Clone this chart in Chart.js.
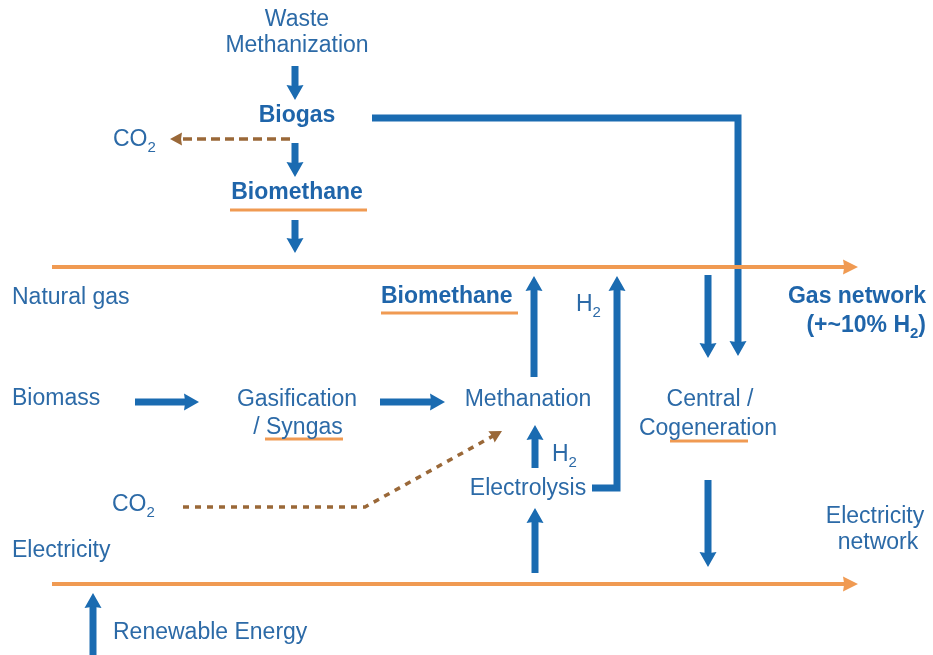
<!DOCTYPE html>
<html>
<head>
<meta charset="utf-8">
<script src="https://cdn.jsdelivr.net/npm/chart.js@4"></script>
<style>
  html, body { margin: 0; padding: 0; background: #ffffff; }
  #flujo { display: block; }
</style>
</head>
<body>
<canvas id="flujo" width="933" height="655"></canvas>
<script>
// --- datos del diagrama (coordenadas en unidades de los ejes 0..933 / 0..655) ---
const labelTexts = [
  'Waste', 'Methanization', 'Biogas', 'CO_2', 'Biomethane',
  'Natural gas', 'Biomethane', 'H_2', 'Gas network', '(+~10% H_2)',
  'Biomass', 'Gasification', '/ Syngas', 'Methanation', 'Central /', 'Cogeneration',
  'H_2', 'Electrolysis', 'CO_2', 'Electricity', 'network', 'Electricity', 'Renewable Energy'
];
const labelX = [297, 297, 297, 113, 297, 12, 381, 576, 926, 926, 12, 297, 298, 528, 710, 708, 552, 528, 112, 875, 878, 12, 113];
const labelY = [20, 46, 116, 140, 193, 298, 297, 305, 297, 326, 399, 400, 428, 400, 400, 429, 455, 489, 505, 517, 543, 551, 633];
const labelAlign = ['center', 'center', 'center', 'left', 'center', 'left', 'left', 'left', 'right', 'right',
  'left', 'center', 'center', 'center', 'center', 'center', 'left', 'center', 'left', 'center', 'center', 'left', 'left'];
const labelBold = [false, false, true, false, true, false, true, false, true, true,
  false, false, false, false, false, false, false, false, false, false, false, false, false];

// flujos azules (el ultimo punto es la punta de la flecha)
const blueFlows = [
  [[295, 66], [295, 100]],
  [[295, 143], [295, 177]],
  [[295, 220], [295, 253]],
  [[372, 118], [738, 118], [738, 356]],
  [[708, 275], [708, 358]],
  [[534, 377], [534, 276]],
  [[592, 488], [617, 488], [617, 276]],
  [[135, 402], [199, 402]],
  [[380, 402], [445, 402]],
  [[535, 468], [535, 425]],
  [[535, 573], [535, 508]],
  [[708, 480], [708, 567]],
  [[93, 655], [93, 593]]
];
// redes de gas y electricidad
const networkLines = [
  [[52, 267], [858, 267]],
  [[52, 584], [858, 584]]
];
// flujos de CO2
const co2Flows = [
  [[290, 139], [170, 139]],
  [[183, 507], [365, 507], [502, 431]]
];
// subrayados naranjas
const underlines = [
  [[230, 210], [367, 210]],
  [[381, 313], [518, 313]],
  [[265, 439], [343, 439]],
  [[670, 441], [748, 441]]
];

(function() {
  const canvas = document.getElementById('flujo');
  const ctx = canvas.getContext('2d');

  const AZUL = '#1a6bb1';
  const NARANJA = '#f09a52';
  const MARRON = '#9a6838';
  const TEXTO = '#2c6aa7';
  const TEXTO_BOLD = '#1f65aa';
  const FUENTE = '"Liberation Sans", Arial, sans-serif';

  // acorta el trazo para que la punta la dibuje el plugin
  function armarFlecha(path, color, width, head, headW, dash) {
    const n = path.length;
    const tip = path[n - 1];
    const prev = path[n - 2];
    const dx = tip[0] - prev[0], dy = tip[1] - prev[1];
    const len = Math.hypot(dx, dy);
    const back = head * 0.7;
    const pts = path.map(p => ({ x: p[0], y: p[1] }));
    pts[n - 1] = { x: tip[0] - dx / len * back, y: tip[1] - dy / len * back };
    return {
      data: pts,
      showLine: true,
      borderColor: color,
      borderWidth: width,
      borderDash: dash || [],
      borderCapStyle: 'butt',
      borderJoinStyle: 'miter',
      pointRadius: 0,
      fill: false,
      tension: 0,
      arrowTip: { x: tip[0], y: tip[1] },
      arrowFrom: { x: prev[0], y: prev[1] },
      arrowHead: head,
      arrowWidth: headW
    };
  }

  const datasets = [];
  underlines.forEach(u => datasets.push({
    data: u.map(p => ({ x: p[0], y: p[1] })),
    showLine: true, borderColor: NARANJA, borderWidth: 3, pointRadius: 0, fill: false
  }));
  networkLines.forEach(p => datasets.push(armarFlecha(p, NARANJA, 4, 15, 15)));
  blueFlows.forEach(p => datasets.push(armarFlecha(p, AZUL, 7, 15, 17)));
  datasets.push(armarFlecha(co2Flows[0], MARRON, 3.5, 12, 13, [9, 5]));
  datasets.push(armarFlecha(co2Flows[1], MARRON, 3.5, 12, 13, [6, 6]));

  // dibuja las puntas de flecha
  const puntas = {
    id: 'puntas',
    afterDatasetsDraw(chart) {
      const c = chart.ctx;
      const sx = chart.scales.x, sy = chart.scales.y;
      chart.data.datasets.forEach(ds => {
        if (!ds.arrowTip) return;
        const tx = sx.getPixelForValue(ds.arrowTip.x), ty = sy.getPixelForValue(ds.arrowTip.y);
        const fx = sx.getPixelForValue(ds.arrowFrom.x), fy = sy.getPixelForValue(ds.arrowFrom.y);
        const ang = Math.atan2(ty - fy, tx - fx);
        c.save();
        c.translate(tx, ty);
        c.rotate(ang);
        c.fillStyle = ds.borderColor;
        c.beginPath();
        c.moveTo(0, 0);
        c.lineTo(-ds.arrowHead, -ds.arrowWidth / 2);
        c.lineTo(-ds.arrowHead * 0.92, 0);
        c.lineTo(-ds.arrowHead, ds.arrowWidth / 2);
        c.closePath();
        c.fill();
        c.restore();
      });
    }
  };

  // textos con subindices marcados como _2
  const etiquetas = {
    id: 'etiquetas',
    afterDatasetsDraw(chart) {
      const c = chart.ctx;
      const sx = chart.scales.x, sy = chart.scales.y;
      labelTexts.forEach((txt, i) => {
        const peso = labelBold[i] ? 'bold ' : '';
        const fNormal = peso + '23px ' + FUENTE;
        const fSub = peso + '15px ' + FUENTE;
        const partes = txt.split(/_(\d)/);
        c.save();
        c.textBaseline = 'middle';
        c.textAlign = 'left';
        let total = 0;
        partes.forEach((p, k) => {
          c.font = k % 2 ? fSub : fNormal;
          total += c.measureText(p).width;
        });
        let x = sx.getPixelForValue(labelX[i]);
        const y = sy.getPixelForValue(labelY[i]);
        if (labelAlign[i] === 'center') x -= total / 2;
        if (labelAlign[i] === 'right') x -= total;
        c.fillStyle = labelBold[i] ? TEXTO_BOLD : TEXTO;
        partes.forEach((p, k) => {
          c.font = k % 2 ? fSub : fNormal;
          c.fillText(p, x, k % 2 ? y + 8 : y);
          x += c.measureText(p).width;
        });
        c.restore();
      });
    }
  };

  new Chart(ctx, {
    type: 'scatter',
    data: { datasets },
    options: {
      responsive: false,
      animation: false,
      layout: { padding: 0 },
      scales: {
        x: { type: 'linear', min: 0, max: 933, display: false },
        y: { type: 'linear', min: 0, max: 655, reverse: true, display: false }
      },
      plugins: {
        legend: { display: false },
        tooltip: { enabled: false }
      }
    },
    plugins: [puntas, etiquetas]
  });
})();
</script>
</body>
</html>
